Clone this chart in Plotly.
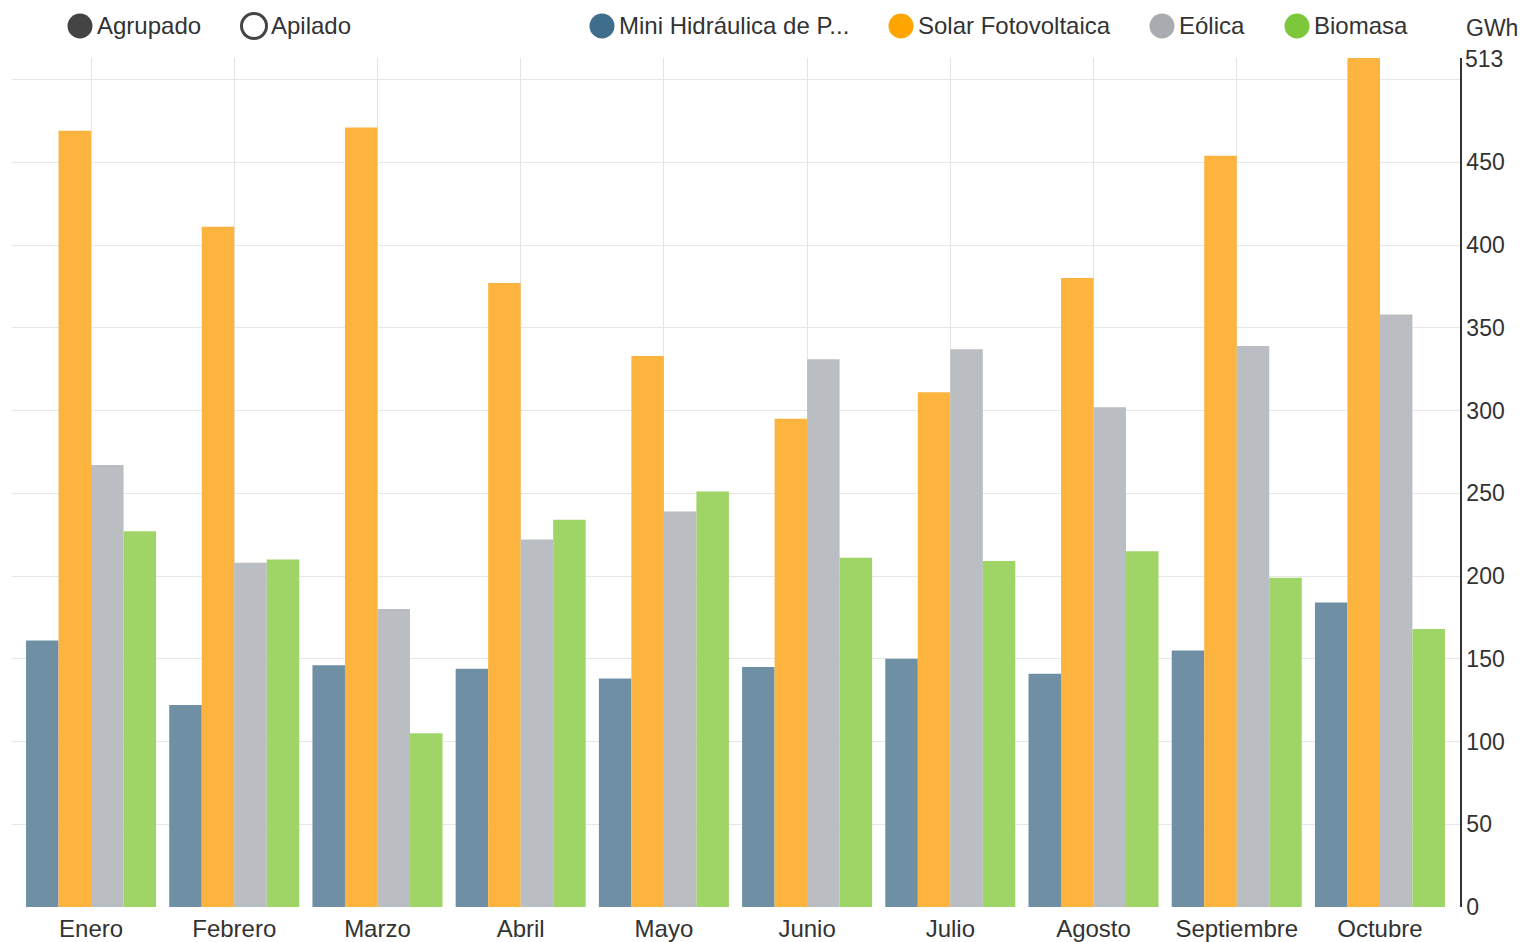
import plotly.graph_objects as go

months = ["Enero", "Febrero", "Marzo", "Abril", "Mayo", "Junio", "Julio",
          "Agosto", "Septiembre", "Octubre"]
mini_hidraulica = [161, 122, 146, 144, 138, 145, 150, 141, 155, 184]
solar_fv = [469, 411, 471, 377, 333, 295, 311, 380, 454, 513]
eolica = [267, 208, 180, 222, 239, 331, 337, 302, 339, 358]
biomasa = [227, 210, 105, 234, 251, 211, 209, 215, 199, 168]

series_names = ["Mini Hidráulica de P...", "Solar Fotovoltaica", "Eólica", "Biomasa"]
series_values = [mini_hidraulica, solar_fv, eolica, biomasa]
bar_colors = ["#6e8fa4", "#fcb43f", "#babdc1", "#9fd467"]
legend_colors = ["#3f6e8c", "#ffa500", "#a8abb0", "#7dc83a"]

y_tick_vals = [0, 50, 100, 150, 200, 250, 300, 350, 400, 450, 500]
y_tick_text = ["0", "50", "100", "150", "200", "250", "300", "350", "400", "450", ""]
y_max = 513

# page body has an 8px margin; work in screen pixels and shift
OFF = 8
W, H = 1526 - OFF, 942 - OFF
PLOT_L, PLOT_R, PLOT_T, PLOT_B = 12, 1460, 58, 907  # screen px
L = PLOT_L - OFF
T = PLOT_T - OFF
R = W - (PLOT_R - OFF)
B = H - (PLOT_B - OFF)
PW, PH = PLOT_R - PLOT_L, PLOT_B - PLOT_T

def px2x(px):
    return (px - PLOT_L) / PW

def py2y(py):
    return (PLOT_B - py) / PH

FONT = "Arial, Liberation Sans, sans-serif"
TXT = "#333333"
FS = 24

fig = go.Figure()
for name, vals, col in zip(series_names, series_values, bar_colors):
    fig.add_trace(go.Bar(x=months, y=vals, name=name, marker=dict(color=col, line=dict(width=0)),
                         showlegend=False))

fig.update_layout(
    width=W, height=H,
    margin=dict(l=L, r=R, t=T, b=B, autoexpand=False),
    paper_bgcolor="white", plot_bgcolor="white",
    barmode="group", bargap=0.092, bargroupgap=0,
    font=dict(family=FONT, color=TXT, size=FS),
    showlegend=False,
)
fig.update_xaxes(
    type="category", range=[-0.552, 9.559], automargin=False,
    showgrid=True, gridcolor="#e4e4e4", gridwidth=1,
    showline=False, ticks="", tickfont=dict(size=FS, color=TXT),
    ticklabelstandoff=5,
)
fig.update_yaxes(
    side="right", range=[0, y_max], automargin=False,
    tickvals=y_tick_vals, ticktext=y_tick_text,
    showgrid=True, gridcolor="#e7e7e7", gridwidth=1,
    zeroline=False,
    showline=True, linecolor="#333333", linewidth=1.5,
    ticks="", tickfont=dict(size=FS - 1, color=TXT),
)

# top label of the axis maximum and unit
fig.add_annotation(xref="paper", yref="y", x=1, y=y_max, text=str(y_max), showarrow=False,
                   xanchor="left", yanchor="middle", xshift=3, yshift=-1,
                   font=dict(size=FS - 1, color=TXT))
fig.add_annotation(xref="paper", yref="paper", x=px2x(1464), y=py2y(28), text="GWh",
                   showarrow=False, xanchor="left", yanchor="middle", font=dict(size=FS - 1, color=TXT))

# custom legend / toggles
r = 12.5
def circle(cx, cy, fill, line_col, lw):
    fig.add_shape(type="circle", xref="paper", yref="paper",
                  x0=px2x(cx - r), x1=px2x(cx + r), y0=py2y(cy + r), y1=py2y(cy - r),
                  fillcolor=fill, line=dict(color=line_col, width=lw), layer="above")

def label(x, cy, text):
    fig.add_annotation(xref="paper", yref="paper", x=px2x(x), y=py2y(cy), text=text,
                       showarrow=False, xanchor="left", yanchor="middle",
                       font=dict(size=FS, color=TXT))

cy = 26
circle(80, cy, "#444444", "#444444", 0)
label(95, cy, "Agrupado")
circle(254, cy, "white", "#444444", 3)
label(269, cy, "Apilado")

legend_x = [602, 901, 1162, 1297]
for name, col, cx in zip(series_names, legend_colors, legend_x):
    circle(cx, cy, col, col, 0)
    label(cx + 15, cy, name)

fig.write_html("out.html")
